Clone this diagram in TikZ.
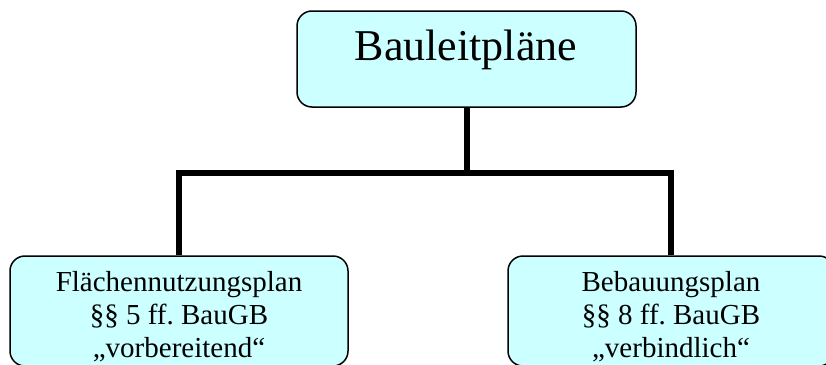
\documentclass[tikz,border=0pt]{standalone}
\usepackage{fontspec}
\setmainfont{Liberation Serif}
\frenchspacing
\definecolor{boxfill}{HTML}{CCFFFF}
\tikzset{
  planbox/.style={draw=black, line width=1.5pt, fill=boxfill,
    rounded corners=15pt, inner sep=0pt},
  title/.style={font=\fontsize{44}{48}\selectfont, anchor=base},
  body/.style={font=\fontsize{29}{33}\selectfont, align=center, anchor=base},
  link/.style={draw=black, line width=6pt, line join=miter}
}
\begin{document}
\begin{tikzpicture}[x=1pt,y=-1pt]
  \useasboundingbox (0,0) rectangle (826,364);

  % boxes
  \node[planbox, minimum width=339pt, minimum height=96pt] (top) at (466.5,59) {};
  \node[planbox, minimum width=338pt, minimum height=110pt] (left) at (179,311) {};
  \node[planbox, minimum width=326pt, minimum height=110pt] (right) at (671,311) {};

  % connectors
  \coordinate (bus) at (466.5,173);
  \draw[link] (top.south) -- (bus);
  \draw[link] (left.north) |- (bus) -| (right.north);

  % texts (base anchor sits on the last line)
  \node[title] (toptext) at (466,60) {Bauleitpläne};
  \node[body] (lefttext) at (179,357) {Flächennutzungsplan\\§§ 5 ff. BauGB\\„vorbereitend“};
  \node[body] (righttext) at (671,357) {Bebauungsplan\\§§ 8 ff. BauGB\\„verbindlich“};
\end{tikzpicture}
\end{document}
